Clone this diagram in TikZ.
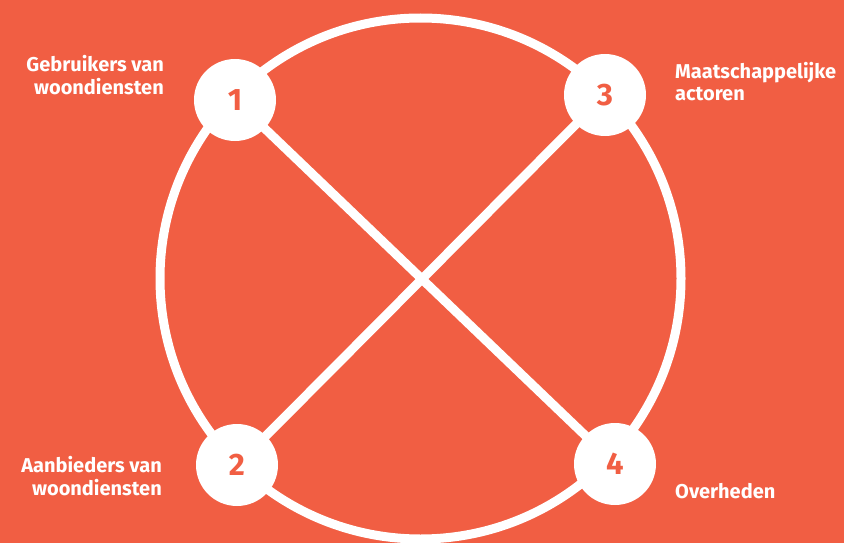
\documentclass[tikz,border=0pt]{standalone}
\usepackage{fontspec}
\setmainfont{Fira Sans}
\usepackage{tikz}
\usetikzlibrary{positioning, backgrounds}
\definecolor{bgOrange}{RGB}{241, 94, 67}

\tikzset{
  ring/.style={white, line width=9pt},
  actor/.style={circle, fill=white, minimum size=82pt, inner sep=0pt,
    text=bgOrange, font=\bfseries\fontsize{31}{31}\selectfont},
  caption/.style={white, inner sep=0pt,
    font=\bfseries\fontsize{20}{23}\selectfont}
}

\begin{document}
\begin{tikzpicture}[x=1pt, y=-1pt]
  \useasboundingbox (0, 0) rectangle (844, 543);

  % The four actors
  \node[actor] (n1) at (235, 100) {1};
  \node[actor] (n3) at (605, 95) {3};
  \node[actor] (n2) at (237, 465) {2};
  \node[actor] (n4) at (615, 464) {4};
  \coordinate (mid) at (420.5, 278.5);

  % Ring and diagonals behind the actors
  \begin{scope}[on background layer]
    \fill[bgOrange] (0, 0) rectangle (844, 543);
    \draw[ring] (mid) circle (260.5);
    \draw[ring] (n1.center) -- (n4.center);
    \draw[ring] (n3.center) -- (n2.center);
  \end{scope}

  % Labels
  \node[caption, anchor=base east, align=right] (l1) at (164, 95) {Gebruikers van\\woondiensten};
  \node[caption, anchor=base west, align=left] (l3) at (675, 101) {Maatschappelijke\\actoren};
  \node[caption, anchor=base east, align=right] (l2) at (162, 495) {Aanbieders van\\woondiensten};
  \node[caption, anchor=base west, align=left] (l4) at (675, 498) {Overheden};
\end{tikzpicture}
\end{document}
